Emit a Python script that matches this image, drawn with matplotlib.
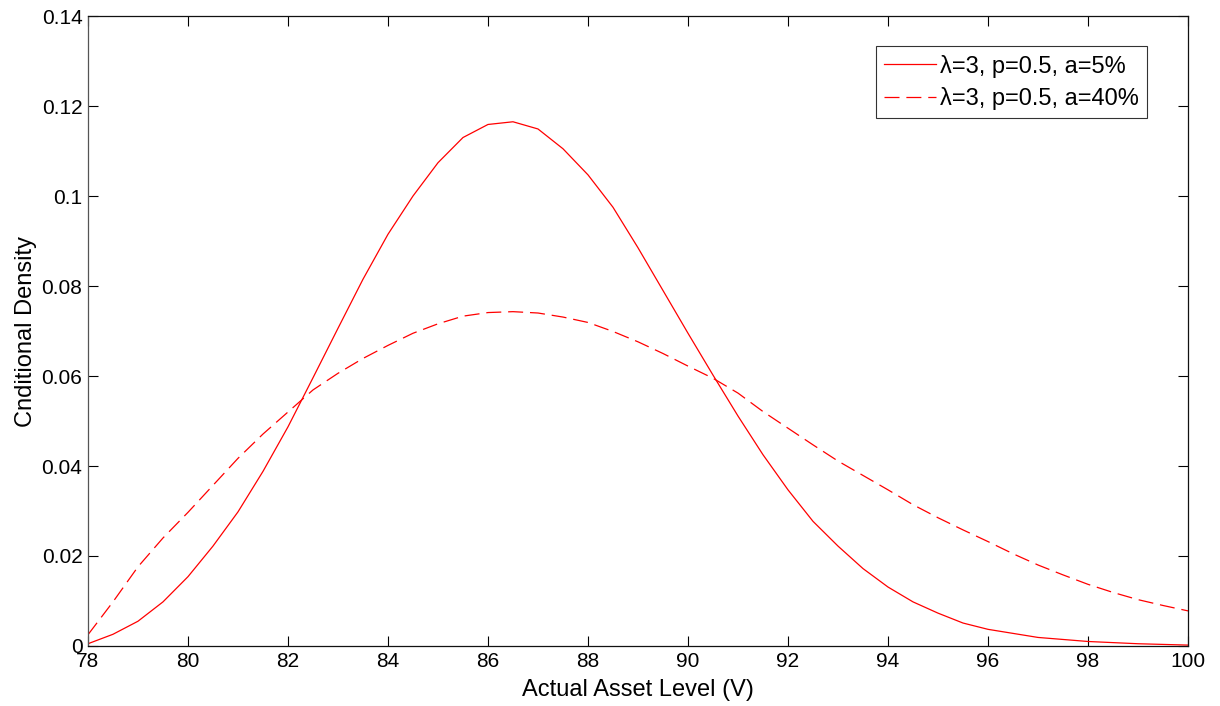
import numpy as np
import matplotlib
matplotlib.use('Agg')
import matplotlib.pyplot as plt

plt.rcParams['font.family'] = ['Liberation Sans', 'DejaVu Sans']

# values
x_a5 = [78, 78.5, 79, 79.5, 80, 80.5, 81, 81.5, 82, 82.5, 83, 83.5, 84, 84.5,
        85, 85.5, 86, 86.5, 87, 87.5, 88, 88.5, 89, 89.5, 90, 90.5, 91, 91.5,
        92, 92.5, 93, 93.5, 94, 94.5, 95, 95.5, 96, 97, 98, 99, 100]
y_a5 = [0.0005, 0.0026, 0.0055, 0.0098, 0.0154, 0.0222, 0.0298, 0.0388, 0.0487,
        0.0596, 0.0706, 0.0815, 0.0915, 0.1000, 0.1074, 0.1130, 0.1159, 0.1165,
        0.1149, 0.1105, 0.1047, 0.0975, 0.0885, 0.0790, 0.0695, 0.0602, 0.0511,
        0.0425, 0.0347, 0.0277, 0.0222, 0.0172, 0.0131, 0.0098, 0.0073, 0.0051,
        0.0037, 0.0019, 0.0010, 0.0005, 0.0002]

x_a40 = [78, 78.5, 79, 79.5, 80, 80.5, 81, 81.5, 82, 82.5, 83, 83.5, 84, 84.5,
         85, 85.5, 86, 86.5, 87, 87.5, 88, 88.5, 89, 89.5, 90, 90.5, 91, 91.5,
         92, 92.5, 93, 93.5, 94, 94.5, 95, 95.5, 96, 96.5, 97, 97.5, 98, 98.5,
         99, 99.5, 100]
y_a40 = [0.0025, 0.0098, 0.0176, 0.0240, 0.0297, 0.0357, 0.0417, 0.0471, 0.0520,
         0.0569, 0.0606, 0.0639, 0.0668, 0.0695, 0.0716, 0.0733, 0.0741, 0.0743,
         0.0740, 0.0731, 0.0719, 0.0699, 0.0676, 0.0650, 0.0622, 0.0595, 0.0562,
         0.0521, 0.0484, 0.0447, 0.0411, 0.0379, 0.0347, 0.0314, 0.0285, 0.0258,
         0.0232, 0.0205, 0.0180, 0.0158, 0.0137, 0.0119, 0.0103, 0.0090, 0.0078]

labels = ['\u03bb=3, p=0.5, a=5%', '\u03bb=3, p=0.5, a=40%']
xticks = np.arange(78, 101, 2)
yticks = [0, 0.02, 0.04, 0.06, 0.08, 0.1, 0.12, 0.14]
yticklabels = ['0', '0.02', '0.04', '0.06', '0.08', '0.1', '0.12', '0.14']

fig = plt.figure(figsize=(12.2, 7.06), dpi=100)
ax = fig.add_axes([0.0721, 0.085, 0.9017, 0.8923])

ax.plot(x_a5, y_a5, color='red', lw=0.9, label=labels[0])
ax.plot(x_a40, y_a40, color='red', lw=0.9, dashes=(12, 5.5), label=labels[1])

ax.set_xlim(78, 100)
ax.set_ylim(0, 0.14)
ax.set_xticks(xticks)
ax.set_yticks(yticks)
ax.set_yticklabels(yticklabels)
ax.tick_params(direction='in', length=7, width=0.8, labelsize=15,
               top=True, right=True, pad=4)
for s in ax.spines.values():
    s.set_linewidth(0.9)
    s.set_color('#111111')
ax.spines['left'].set_color('#555555')

ax.set_xlabel('Actual Asset Level (V)', fontsize=17, labelpad=6)
ax.set_ylabel('Cnditional Density', fontsize=17, labelpad=3)

leg = ax.legend(loc='upper right', bbox_to_anchor=(0.9627, 0.952), fontsize=17,
                frameon=True, fancybox=False, edgecolor='black',
                handlelength=2.2, handletextpad=0.15, borderpad=0.35,
                labelspacing=0.4, borderaxespad=0)
leg.get_frame().set_linewidth(0.8)

fig.savefig('out.png', dpi=100)
